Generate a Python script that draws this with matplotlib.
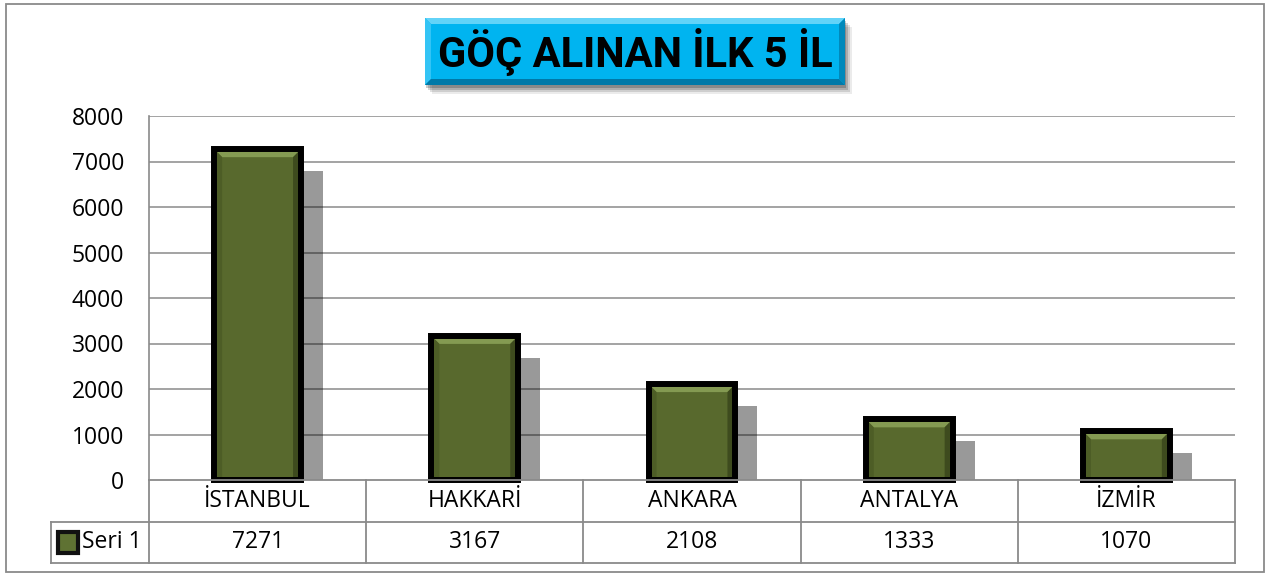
import matplotlib
matplotlib.use('Agg')
import matplotlib.pyplot as plt
from matplotlib.patches import Rectangle, Polygon

# veriler
iller = ['İSTANBUL', 'HAKKARİ', 'ANKARA', 'ANTALYA', 'İZMİR']
goc = [7271, 3167, 2108, 1333, 1070]
seri_adi = 'Seri 1'
baslik = 'GÖÇ ALINAN İLK 5 İL'
yticks = [0, 1000, 2000, 3000, 4000, 5000, 6000, 7000, 8000]

W, H = 1271, 577
plt.rcParams['font.family'] = ['Open Sans', 'DejaVu Sans']

fig = plt.figure(figsize=(W / 100, H / 100), dpi=100)

def fx(x):
    return x / W

def fy(y):
    return 1 - y / H

# dis cerceve
fig.patches.append(Rectangle((fx(6), fy(572)), fx(1264) - fx(6), fy(4) - fy(572),
                             transform=fig.transFigure, fill=False,
                             edgecolor='#8a8a8a', lw=1.3))

# ana grafik
ax = fig.add_axes([fx(149), fy(480), fx(1235) - fx(149), fy(116) - fy(480)])
ax.set_xlim(-0.5, 4.5)
ax.set_ylim(0, 8000)
ax.set_yticks(yticks)
ax.set_yticklabels([str(t) for t in yticks], fontsize=16.5)
ax.tick_params(axis='y', length=0, pad=18)
ax.set_xticks([])
for s in ['top', 'right', 'bottom']:
    ax.spines[s].set_visible(False)
ax.spines['left'].set_color('#8a8a8a')
ax.spines['left'].set_linewidth(1.2)
for t in yticks[1:]:
    ax.axhline(t, color='#8a8a8a', lw=1.1, zorder=1)

px_x = 5 / (1235 - 149)
px_y = 8000 / (480 - 116)
w = 0.40
bx = 8 * px_x
by = 8 * px_y

for i, v in enumerate(goc):
    x0, x1 = i - w / 2, i + w / 2
    # golge
    ax.add_patch(Rectangle((x0 + 22 * px_x, 0), w, v - 22 * px_y,
                           facecolor='black', alpha=0.4, lw=0, zorder=2))
    # cubuk
    ax.add_patch(Rectangle((x0, 0), w, v, facecolor='#58692d', lw=0, zorder=3))
    ax.add_patch(Polygon([(x0, v), (x1, v), (x1 - bx, v - by), (x0 + bx, v - by)],
                         closed=True, facecolor='#849a52', lw=0, zorder=3))
    ax.add_patch(Polygon([(x1, 0), (x1, v), (x1 - bx, v - by), (x1 - bx, 0)],
                         closed=True, facecolor='#3e4b1e', lw=0, zorder=3))
    ax.add_patch(Polygon([(x0, 0), (x0, v), (x0 + bx, v - by), (x0 + bx, 0)],
                         closed=True, facecolor='#4d5d26', lw=0, zorder=3))
    ax.add_patch(Rectangle((x0, 0), w, v, facecolor='none', edgecolor='black',
                           lw=4.3, zorder=4, clip_on=False))

# veri tablosu
tx = fig.add_axes([fx(51), fy(563), fx(1235) - fx(51), fy(480) - fy(563)])
left_cat = -0.5 - (149 - 51) / ((1235 - 149) / 5)
tx.set_xlim(left_cat, 4.5)
tx.set_ylim(0, 2)
tx.axis('off')
lc = '#8a8a8a'
tx.plot([-0.5, 4.5], [2, 2], color=lc, lw=1.3, clip_on=False)
tx.plot([left_cat, 4.5], [1, 1], color=lc, lw=1.3, clip_on=False)
tx.plot([left_cat, 4.5], [0, 0], color=lc, lw=1.3, clip_on=False)
tx.plot([left_cat, left_cat], [0, 1], color=lc, lw=1.3, clip_on=False)
for k in range(6):
    tx.plot([k - 0.5, k - 0.5], [0, 2], color=lc, lw=1.3, clip_on=False)
for i, (il, v) in enumerate(zip(iller, goc)):
    tx.text(i, 1.5, il, ha='center', va='center', fontsize=16.5)
    tx.text(i, 0.5, str(v), ha='center', va='center', fontsize=16.5)

# lejant anahtari
kx = left_cat + 7 / ((1235 - 149) / 5)
kw = 20 / ((1235 - 149) / 5)
tx.add_patch(Rectangle((kx, 0.25), kw, 0.5, facecolor='#5f7233',
                       edgecolor='#111111', lw=3))
tx.text(kx + kw + 4 / ((1235 - 149) / 5), 0.5, seri_adi, ha='left', va='center',
        fontsize=16.5)

# baslik kutusu
bl, bt, br, bb = 425, 18, 845, 85
for off, a in [(9, 0.08), (7, 0.12), (5, 0.16), (3, 0.2)]:
    fig.patches.append(Rectangle((fx(bl + off - 2), fy(bb + off)), fx(br - bl), fy(bt) - fy(bb),
                                 transform=fig.transFigure, facecolor='black',
                                 alpha=a, lw=0))
fig.patches.append(Rectangle((fx(bl), fy(bb)), fx(br - bl), fy(bt) - fy(bb),
                             transform=fig.transFigure, facecolor='#00b4f0', lw=0))
e = 6
bevels = [
    ([(bl, bt), (br, bt), (br - e, bt + e), (bl + e, bt + e)], '#62d3f8'),
    ([(bl, bt), (bl + e, bt + e), (bl + e, bb - e), (bl, bb)], '#33c4f5'),
    ([(br, bt), (br, bb), (br - e, bb - e), (br - e, bt + e)], '#0089bb'),
    ([(bl, bb), (bl + e, bb - e), (br - e, bb - e), (br, bb)], '#0079a8'),
]
for pts, c in bevels:
    fig.patches.append(Polygon([(fx(a), fy(b)) for a, b in pts], closed=True,
                               transform=fig.transFigure, facecolor=c, lw=0))
fig.text(fx((bl + br) / 2), fy((bt + bb) / 2 + 1), baslik, ha='center', va='center',
         fontsize=30, fontweight='bold', color='black',
         family=['Roboto', 'DejaVu Sans'])

fig.savefig('out.png', dpi=100)
